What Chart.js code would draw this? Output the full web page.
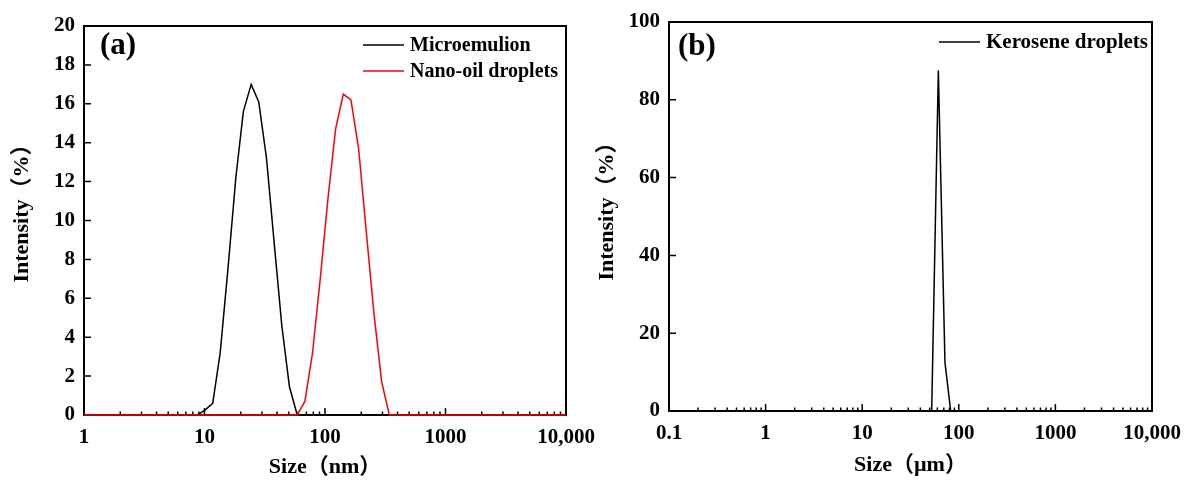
<!DOCTYPE html>
<html>
<head>
<meta charset="utf-8">
<script src="https://cdn.jsdelivr.net/npm/chart.js@4.4.1/dist/chart.umd.min.js"></script>
<style>
  html, body { margin: 0; padding: 0; background: #fff; }
  #wrap { position: relative; width: 1187px; height: 482px; overflow: hidden; }
  #wrap canvas { position: absolute; top: 0; }
</style>
</head>
<body>
<div id="wrap">
  <canvas id="chartA" width="620" height="482" style="left:0"></canvas>
  <canvas id="chartB" width="620" height="482" style="left:594px"></canvas>
</div>
<script>
// ---- (a) particle size distribution, size in nm ----
const sizeMicro = [1, 8.7, 10.1, 11.7, 13.5, 15.7, 18.2, 21.0, 24.4, 28.2, 32.7, 37.8, 43.8, 50.7, 58.8, 10000];
const intMicro  = [0, 0, 0.25, 0.6, 3.2, 7.6, 12.2, 15.6, 17.0, 16.1, 13.2, 8.9, 4.6, 1.45, 0, 0];
const sizeNano  = [1, 58.8, 68.1, 78.8, 91.3, 105.7, 122.4, 141.8, 164.2, 190.1, 220.2, 255.0, 295.3, 342.0, 10000];
const intNano   = [0, 0, 0.7, 3.2, 7.0, 11.1, 14.7, 16.5, 16.2, 13.7, 9.4, 5.2, 1.7, 0, 0];

// ---- (b) size in µm ----
const sizeKero = [0.1, 52.4, 61.4, 71.9, 82.4, 10000];
const intKero  = [0, 0, 87.6, 12.5, 0, 0];

// tick labels
const xTicksA  = [1, 10, 100, 1000, 10000];
const xLabelsA = ['1', '10', '100', '1000', '10,000'];
const xTicksB  = [0.1, 1, 10, 100, 1000, 10000];
const xLabelsB = ['0.1', '1', '10', '100', '1000', '10,000'];

const SERIF = "'Liberation Serif', 'Times New Roman', 'Noto Sans CJK SC', serif";
Chart.defaults.color = '#000';

function pts(xs, ys) {
  return xs.map((x, i) => ({ x: x, y: ys[i] }));
}

// minor ticks 1..9 in each decade, majors on the decades
function logTicks(decades) {
  const out = [];
  decades.forEach((d, i) => {
    if (i === decades.length - 1) { out.push({ value: d, major: true }); return; }
    for (let m = 1; m <= 9; m++) out.push({ value: m * d, major: m === 1 });
  });
  return out;
}

// frame, inward ticks, y title, legend and panel tag
const framePlugin = {
  id: 'frame',
  beforeDatasetsDraw(chart) {
    const { ctx, chartArea: a, scales } = chart;
    ctx.save();
    ctx.strokeStyle = '#000';
    ctx.lineWidth = 2;
    ctx.strokeRect(a.left, a.top, a.right - a.left, a.bottom - a.top);
    ctx.lineWidth = 1.5;
    ctx.beginPath();
    scales.y.ticks.forEach(t => {
      const py = scales.y.getPixelForValue(t.value);
      ctx.moveTo(a.left, py);
      ctx.lineTo(a.left + 7, py);
    });
    scales.x.ticks.forEach(t => {
      const px = scales.x.getPixelForValue(t.value);
      const len = t.major ? 7 : 3.5;
      ctx.moveTo(px, a.bottom);
      ctx.lineTo(px, a.bottom - len);
    });
    ctx.stroke();
    ctx.restore();
  },
  afterDraw(chart, args, opts) {
    const { ctx, chartArea: a } = chart;
    ctx.save();
    ctx.fillStyle = '#000';
    ctx.textBaseline = 'middle';

    // y axis title
    ctx.save();
    ctx.translate(opts.yTitleX, opts.yTitleY);
    ctx.rotate(-Math.PI / 2);
    ctx.textAlign = 'center';
    ctx.font = 'bold 22px ' + SERIF;
    ctx.fillText('Intensity（%）', 0, 0);
    ctx.restore();

    ctx.font = 'bold 31px ' + SERIF;
    ctx.fillText(opts.tag, a.left + opts.tagDx, opts.tagY);
    ctx.font = 'bold ' + opts.legSize + 'px ' + SERIF;
    chart.data.datasets.forEach((ds, i) => {
      const y = opts.legY + i * 26;
      ctx.strokeStyle = ds.borderColor;
      ctx.lineWidth = 1.5;
      ctx.beginPath();
      ctx.moveTo(opts.legX, y);
      ctx.lineTo(opts.legX + 41, y);
      ctx.stroke();
      ctx.fillText(ds.label, opts.legX + 47, y + 1);
    });
    ctx.restore();
  }
};

function makeChart(id, cfg) {
  return new Chart(document.getElementById(id), {
    type: 'line',
    data: { datasets: cfg.datasets },
    options: {
      responsive: false,
      animation: false,
      layout: { padding: cfg.padding },
      elements: { point: { radius: 0 }, line: { tension: 0 } },
      plugins: {
        legend: { display: false },
        tooltip: { enabled: false },
        frame: cfg.frame
      },
      scales: {
        x: {
          type: 'logarithmic',
          min: cfg.xTicks[0],
          max: cfg.xTicks[cfg.xTicks.length - 1],
          afterBuildTicks: s => { s.ticks = logTicks(cfg.xTicks); },
          afterFit: s => { s.height = cfg.xHeight; },
          grid: { display: false, drawTicks: false },
          border: { display: false },
          ticks: {
            autoSkip: false,
            maxRotation: 0,
            padding: 10,
            font: { family: SERIF, size: 21, weight: 'bold' },
            callback: v => {
              const k = cfg.xTicks.findIndex(t => Math.abs(t - v) < t * 1e-6);
              return k >= 0 ? cfg.xLabels[k] : '';
            }
          },
          title: {
            display: true,
            text: cfg.xTitle,
            padding: { top: 0, bottom: cfg.xTitlePad },
            font: { family: SERIF, size: 22, weight: 'bold' }
          }
        },
        y: {
          min: 0,
          max: cfg.yMax,
          afterFit: s => { s.width = cfg.yWidth; },
          grid: { display: false, drawTicks: false },
          border: { display: false },
          ticks: {
            stepSize: cfg.yStep,
            padding: 9,
            font: { family: SERIF, size: 21, weight: 'bold' }
          }
        }
      }
    },
    plugins: [framePlugin]
  });
}

makeChart('chartA', {
  datasets: [
    { label: 'Microemulion', data: pts(sizeMicro, intMicro), borderColor: '#000', borderWidth: 1.5, order: 1, clip: false },
    { label: 'Nano-oil droplets', data: pts(sizeNano, intNano), borderColor: '#ff0000', borderWidth: 1.5, order: 0, clip: false }
  ],
  padding: { left: 0, top: 26, right: 620 - 566, bottom: 0 },
  xTicks: xTicksA, xLabels: xLabelsA,
  xHeight: 67, yWidth: 84, yMax: 20, yStep: 2,
  xTitle: 'Size（nm）', xTitlePad: 1,
  frame: { tag: '(a)', tagDx: 16, tagY: 46, legX: 363, legY: 45, legSize: 20, yTitleX: 22, yTitleY: 208 }
});

makeChart('chartB', {
  datasets: [
    { label: 'Kerosene droplets', data: pts(sizeKero, intKero), borderColor: '#000', borderWidth: 1.5, clip: false }
  ],
  padding: { left: 0, top: 22, right: 620 - 558, bottom: 0 },
  xTicks: xTicksB, xLabels: xLabelsB,
  xHeight: 71, yWidth: 75, yMax: 100, yStep: 20,
  xTitle: 'Size（µm）', xTitlePad: 3,
  frame: { tag: '(b)', tagDx: 9, tagY: 47, legX: 345, legY: 42, legSize: 21, yTitleX: 13, yTitleY: 206 }
});
</script>
</body>
</html>
